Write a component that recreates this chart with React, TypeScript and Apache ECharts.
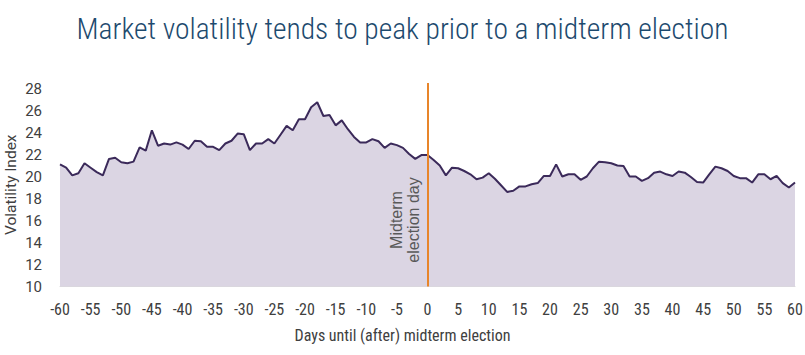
import React, { useEffect, useRef } from "react";
import * as echarts from "echarts";

const titleText = "Market volatility tends to peak prior to a midterm election";
const xAxisTitle = "Days until (after) midterm election";
const yAxisTitle = "Volatility Index";
const markerLabel = "Midterm\nelection day";
const markerDay = 0;
const firstDay = -60;
const lastDay = 60;

// Average VIX level by day relative to midterm election (-60 .. 60)
const volatility = [
  21.1, 20.8, 20.1, 20.3, 21.2, 20.8, 20.4, 20.1, 21.6, 21.7,
  21.3, 21.2, 21.35, 22.65, 22.35, 24.2, 22.8, 23.0, 22.9, 23.1,
  22.9, 22.5, 23.25, 23.2, 22.7, 22.7, 22.4, 23.0, 23.25, 23.9,
  23.85, 22.4, 23.0, 23.0, 23.4, 23.0, 23.8, 24.6, 24.2, 25.2,
  25.2, 26.3, 26.75, 25.5, 25.6, 24.65, 25.1, 24.3, 23.6, 23.1,
  23.1, 23.4, 23.2, 22.6, 23.0, 22.85, 22.6, 22.05, 21.6, 21.95,
  21.95,
  21.5, 21.0, 20.1, 20.8, 20.75, 20.5, 20.2, 19.75, 19.9, 20.3,
  19.8, 19.2, 18.6, 18.7, 19.1, 19.1, 19.3, 19.4, 20.05, 20.05,
  21.1, 20.0, 20.2, 20.2, 19.7, 20.0, 20.75, 21.35, 21.3, 21.2,
  21.0, 20.95, 20.0, 20.0, 19.6, 19.85, 20.35, 20.45, 20.2, 20.05,
  20.45, 20.35, 19.95, 19.5, 19.45, 20.2, 20.9, 20.75, 20.5, 20.05,
  19.85, 19.85, 19.45, 20.2, 20.2, 19.75, 20.05, 19.4, 19.0, 19.45,
];

const yMin = 10;
const yMax = 28.5;
const yInterval = 2;
const xInterval = 5;

const FONT = "'Liberation Sans Narrow', 'Roboto Condensed', Roboto, sans-serif";
const FONT_REG = "Roboto, 'Liberation Sans', sans-serif";

export default function App() {
  const ref = useRef<HTMLDivElement>(null);

  useEffect(() => {
    if (!ref.current) return;
    const chart = echarts.init(ref.current, undefined, { renderer: "svg" });
    const seriesData = volatility.map((v, i) => [firstDay + i, v]);

    chart.setOption({
      animation: false,
      backgroundColor: "#ffffff",
      title: {
        text: titleText,
        left: "center",
        top: 9,
        textStyle: {
          fontFamily: FONT,
          fontSize: 29.5,
          fontWeight: 300,
          color: "#1d4a6e",
        },
      },
      grid: { left: 60, right: 10, top: 83, bottom: 68.5, outerBoundsMode: "none", containLabel: false },
      xAxis: {
        type: "value",
        min: firstDay,
        max: lastDay,
        interval: xInterval,
        axisLine: { show: true, lineStyle: { color: "#d9d9d9", width: 1 } },
        axisTick: { show: false },
        splitLine: { show: false },
        axisLabel: {
          margin: 15,
          fontFamily: FONT,
          fontSize: 16,
          color: "#404040",
        },
      },
      yAxis: {
        type: "value",
        min: yMin,
        max: yMax,
        interval: yInterval,
        axisLine: { show: false },
        axisTick: { show: false },
        splitLine: { show: false },
        axisLabel: {
          showMaxLabel: false,
          margin: 18,
          fontFamily: FONT_REG,
          fontSize: 15,
          color: "#404040",
        },
      },
      series: [
        {
          type: "line",
          data: seriesData,
          symbol: "none",
          lineStyle: { color: "#3b2a5a", width: 2 },
          areaStyle: { color: "#dbd5e3", opacity: 1, origin: "start" },
          z: 2,
          markLine: {
            silent: true,
            symbol: ["none", "none"],
            label: { show: false },
            lineStyle: { color: "#e8852a", width: 2, type: "solid" },
            data: [{ xAxis: markerDay }],
            z: 5,
          },
        },
      ],
    });

    const p = chart.convertToPixel({ gridIndex: 0 }, [markerDay, yMin]) as number[];
    const top = chart.convertToPixel({ gridIndex: 0 }, [markerDay, yMax]) as number[];
    const gridMidY = (p[1] + top[1]) / 2;
    chart.setOption({
      graphic: [
        {
          type: "text",
          x: p[0] - 22.5,
          y: 220,
          rotation: Math.PI / 2,
          style: {
            text: markerLabel,
            fontFamily: "'Liberation Sans', Arial, sans-serif",
            fontSize: 16,
            lineHeight: 17,
            fill: "#595959",
            align: "center",
            verticalAlign: "middle",
          },
          z: 10,
        },
        {
          type: "text",
          x: 11,
          y: gridMidY,
          rotation: Math.PI / 2,
          style: {
            text: yAxisTitle,
            fontFamily: FONT_REG,
            fontSize: 15.5,
            fill: "#404040",
            align: "center",
            verticalAlign: "middle",
          },
        },
        {
          type: "text",
          left: "center",
          top: 327,
          style: {
            text: xAxisTitle,
            fontFamily: FONT,
            fontSize: 16,
            fill: "#404040",
          },
        },
      ],
    });

    return () => chart.dispose();
  }, []);

  return (
    <div
      ref={ref}
      style={{ position: "fixed", left: 0, top: 0, width: 805, height: 355 }}
    />
  );
}
